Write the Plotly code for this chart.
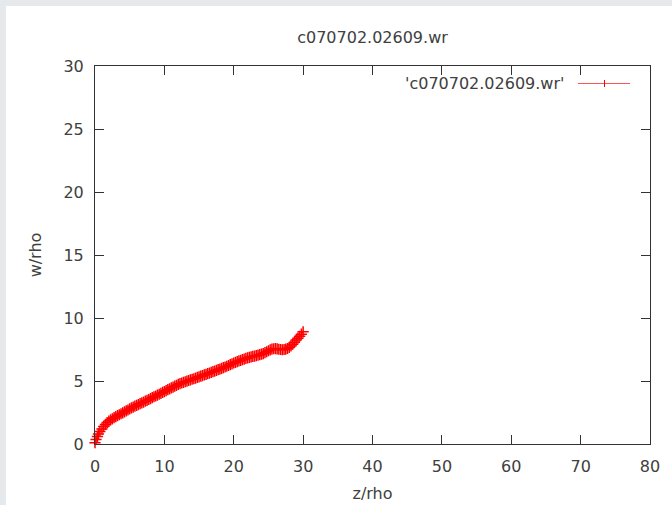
import plotly.graph_objects as go

# ---- data ----
z_rho = [0.0, 0.15, 0.35, 0.5, 0.7, 1.0, 1.25, 1.5, 1.75, 2.0, 2.25, 2.5, 2.75,
         3.0, 3.25, 3.5, 3.75, 4.0, 4.25, 4.5, 4.75, 5.0, 5.25, 5.5, 5.75,
         6.0, 6.25, 6.5, 6.75, 7.0, 7.25, 7.5, 7.75, 8.0, 8.25, 8.5, 8.75,
         9.0, 9.25, 9.5, 9.75, 10.0, 10.25, 10.5, 10.75, 11.0, 11.25, 11.5, 11.75,
         12.0, 12.25, 12.5, 12.75, 13.0, 13.25, 13.5, 13.75, 14.0, 14.25, 14.5, 14.75,
         15.0, 15.25, 15.5, 15.75, 16.0, 16.25, 16.5, 16.75, 17.0, 17.25, 17.5, 17.75,
         18.0, 18.25, 18.5, 18.75, 19.0, 19.25, 19.5, 19.75, 20.0, 20.25, 20.5, 20.75,
         21.0, 21.25, 21.5, 21.75, 22.0, 22.25, 22.5, 22.75, 23.0, 23.25, 23.5, 23.75,
         24.0, 24.25, 24.5, 24.75, 25.0, 25.25, 25.5, 25.75, 26.0, 26.25, 26.5, 26.75,
         27.0, 27.25, 27.5, 27.75, 28.0, 28.25, 28.5, 28.75, 29.0, 29.25, 29.5, 29.75,
         30.0]
w_rho = [0.1, 0.36, 0.6, 0.8, 1.0, 1.2, 1.38, 1.55, 1.7, 1.82, 1.92, 2.0, 2.09,
         2.17, 2.25, 2.32, 2.4, 2.47, 2.55, 2.63, 2.7, 2.78, 2.86, 2.93, 3.0,
         3.07, 3.13, 3.2, 3.27, 3.33, 3.4, 3.46, 3.53, 3.6, 3.68, 3.75, 3.81,
         3.88, 3.95, 4.02, 4.09, 4.16, 4.23, 4.31, 4.38, 4.45, 4.52, 4.59, 4.66,
         4.73, 4.79, 4.84, 4.89, 4.94, 4.99, 5.04, 5.09, 5.14, 5.18, 5.23, 5.28,
         5.33, 5.38, 5.43, 5.48, 5.53, 5.58, 5.63, 5.69, 5.74, 5.79, 5.84, 5.9,
         5.95, 6.0, 6.06, 6.11, 6.17, 6.23, 6.3, 6.36, 6.43, 6.48, 6.53, 6.59,
         6.64, 6.69, 6.74, 6.79, 6.84, 6.88, 6.91, 6.95, 6.98, 7.01, 7.05, 7.09,
         7.13, 7.18, 7.25, 7.32, 7.4, 7.47, 7.53, 7.56, 7.57, 7.55, 7.52, 7.5,
         7.48, 7.5, 7.53, 7.58, 7.66, 7.78, 7.92, 8.08, 8.25, 8.4, 8.55, 8.72,
         8.9]

series_label = "'c070702.02609.wr'"
chart_title = "c070702.02609.wr"
x_title = "z/rho"
y_title = "w/rho"
x_ticks = [0, 10, 20, 30, 40, 50, 60, 70, 80]
y_ticks = [0, 5, 10, 15, 20, 25, 30]

# ---- figure ----
W, H = 672, 505
ML, MR, MT, MB = 95, 22, 66, 61
pw = W - ML - MR
ph = H - MT - MB

def px_to_paper_x(px):
    return (px - ML) / pw

def px_to_paper_y(py):
    return (H - MB - py) / ph

RED = "#ff0000"
AX = "#333333"
TXT = "#404040"
FONT = "DejaVu Sans"

fig = go.Figure()
fig.add_trace(go.Scatter(
    x=z_rho, y=w_rho, mode="lines+markers",
    line=dict(color=RED, width=1),
    marker=dict(symbol="cross-thin", size=8, color=RED,
                line=dict(color=RED, width=1.5)),
    cliponaxis=False, showlegend=False,
))

axis_common = dict(
    showline=True, linecolor=AX, linewidth=1, mirror="ticks",
    ticks="inside", ticklen=9, tickcolor=AX, tickwidth=1,
    showgrid=False, zeroline=False, automargin=False,
    tickfont=dict(family=FONT, size=16, color=TXT),
)

fig.update_layout(
    width=W, height=H,
    margin=dict(l=ML, r=MR, t=MT, b=MB, autoexpand=False),
    paper_bgcolor="#e6e9ec",
    plot_bgcolor="white",
    font=dict(family=FONT, size=16, color=TXT),
    title=dict(text=chart_title, x=0.5, xref="paper", xanchor="center",
               y=1 - 37 / H, yanchor="middle",
               font=dict(family=FONT, size=16, color=TXT)),
    xaxis=dict(range=[0, 80], tickvals=x_ticks, ticklabelstandoff=8,
               title=dict(text=x_title, standoff=12,
                          font=dict(family=FONT, size=16, color=TXT)),
               **axis_common),
    yaxis=dict(range=[0, 30], tickvals=y_ticks, ticklabelstandoff=7,
               title=dict(text=y_title, standoff=17,
                          font=dict(family=FONT, size=16, color=TXT)),
               **axis_common),
    shapes=[
        # white panel (gray strip at top/left like the reference)
        dict(type="rect", xref="paper", yref="paper", layer="below",
             x0=px_to_paper_x(6), x1=px_to_paper_x(W + 5),
             y0=px_to_paper_y(H + 5), y1=px_to_paper_y(6),
             fillcolor="white", line=dict(width=0)),
        # legend key line
        dict(type="line", xref="paper", yref="paper",
             x0=px_to_paper_x(578), x1=px_to_paper_x(630),
             y0=px_to_paper_y(83.5), y1=px_to_paper_y(83.5),
             line=dict(color="#ff5555", width=1.2)),
        dict(type="line", xref="paper", yref="paper",
             x0=px_to_paper_x(604.5), x1=px_to_paper_x(604.5),
             y0=px_to_paper_y(80), y1=px_to_paper_y(87),
             line=dict(color=RED, width=1)),
    ],
    annotations=[
        dict(text=series_label, xref="paper", yref="paper",
             x=px_to_paper_x(566), y=px_to_paper_y(83.5),
             xanchor="right", yanchor="middle", showarrow=False,
             font=dict(family=FONT, size=16, color=TXT)),
    ],
)

fig.write_html("out.html", config={"displayModeBar": False},
               post_script="document.body.style.margin='0';document.body.style.overflow='hidden';")
